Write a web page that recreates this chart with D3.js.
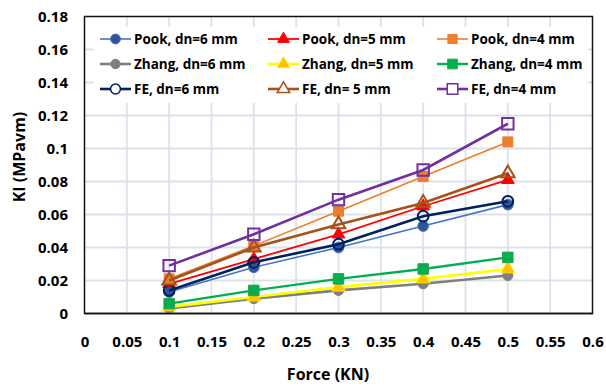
<!DOCTYPE html>
<html>
<head>
<meta charset="utf-8">
<script src="https://cdn.jsdelivr.net/npm/d3@7"></script>
<style>
  html, body { margin: 0; padding: 0; background: #fff; }
  svg { display: block; }
  text { font-family: "Open Sans", Lato, sans-serif; font-weight: bold; fill: #000; }
</style>
</head>
<body>
<svg id="chart" width="606" height="390"></svg>
<script>
// Applied force (KN)
const forces = [0.1, 0.2, 0.3, 0.4, 0.5];

// Stress intensity factor KI (MPa√m) per method and notch depth
const pook6  = [0.013, 0.028, 0.040, 0.053, 0.066];
const pook5  = [0.018, 0.033, 0.048, 0.065, 0.081];
const pook4  = [0.021, 0.041, 0.062, 0.083, 0.104];
const zhang6 = [0.003, 0.009, 0.014, 0.018, 0.023];
const zhang5 = [0.004, 0.010, 0.016, 0.021, 0.027];
const zhang4 = [0.006, 0.014, 0.021, 0.027, 0.034];
const fe6    = [0.014, 0.031, 0.042, 0.059, 0.068];
const fe5    = [0.020, 0.040, 0.054, 0.067, 0.085];
const fe4    = [0.029, 0.048, 0.069, 0.087, 0.115];

const seriesNames = [
  "Pook, dn=6 mm", "Pook, dn=5 mm", "Pook, dn=4 mm",
  "Zhang, dn=6 mm", "Zhang, dn=5 mm", "Zhang, dn=4 mm",
  "FE, dn=6 mm", "FE, dn= 5 mm", "FE, dn=4 mm"
];
const seriesValues = [pook6, pook5, pook4, zhang6, zhang5, zhang4, fe6, fe5, fe4];

const xTicks = [0, 0.05, 0.1, 0.15, 0.2, 0.25, 0.3, 0.35, 0.4, 0.45, 0.5, 0.55, 0.6];
const yTicks = [0, 0.02, 0.04, 0.06, 0.08, 0.1, 0.12, 0.14, 0.16, 0.18];

// Line and marker styling for each series
const styles = [
  { line: "#4472C4", lw: 1.6, shape: d3.symbolCircle,   size: 90,  fill: "#2F5597", stroke: "#4472C4" },
  { line: "#FF0000", lw: 1.8, shape: d3.symbolTriangle, size: 70,  fill: "#FF0000", stroke: "#FF0000" },
  { line: "#ED7D31", lw: 1.6, shape: d3.symbolSquare,   size: 100, fill: "#ED7D31", stroke: "#ED7D31" },
  { line: "#7F7F7F", lw: 2.6, shape: d3.symbolCircle,   size: 80,  fill: "#7F7F7F", stroke: "#7F7F7F" },
  { line: "#FFFF00", lw: 2.6, shape: d3.symbolTriangle, size: 80,  fill: "#FFC000", stroke: "#FFE600" },
  { line: "#00B050", lw: 2.4, shape: d3.symbolSquare,   size: 110, fill: "#00B050", stroke: "#2E9E4A" },
  { line: "#002060", lw: 2.6, shape: d3.symbolCircle,   size: 90,  fill: "none",    stroke: "#002060" },
  { line: "#A5521B", lw: 2.6, shape: d3.symbolTriangle, size: 80,  fill: "none",    stroke: "#A5521B" },
  { line: "#7030A0", lw: 2.6, shape: d3.symbolSquare,   size: 130, fill: "none",    stroke: "#7030A0" }
];

const svg = d3.select("#chart");
const plot = { left: 84.5, right: 592.5, top: 16.5, bottom: 313.5 };

const x = d3.scaleLinear().domain([0, 0.6]).range([plot.left, plot.right]);
const y = d3.scaleLinear().domain([0, 0.18]).range([plot.bottom, plot.top]);

// Gridlines
const grid = svg.append("g");
grid.selectAll("line.v").data(xTicks.slice(1, -1)).join("line")
  .attr("x1", d => x(d)).attr("x2", d => x(d))
  .attr("y1", plot.top).attr("y2", plot.bottom)
  .attr("stroke", "#DCE2EA").attr("stroke-width", 1.8);
grid.selectAll("line.h").data(yTicks.slice(1, -1)).join("line")
  .attr("x1", plot.left).attr("x2", plot.right)
  .attr("y1", d => y(d)).attr("y2", d => y(d))
  .attr("stroke", "#DCE2EA").attr("stroke-width", 1.8);

// Axes (tick labels only)
const xAxis = svg.append("g")
  .attr("transform", `translate(0,${plot.bottom})`)
  .call(d3.axisBottom(x).tickValues(xTicks).tickSize(0).tickPadding(23).tickFormat(d3.format("~g")));
xAxis.select(".domain").remove();
xAxis.selectAll("text").style("font-size", "15px");

const yAxis = svg.append("g")
  .attr("transform", `translate(${plot.left},0)`)
  .call(d3.axisLeft(y).tickValues(yTicks).tickSize(0).tickPadding(16.5).tickFormat(d3.format("~g")));
yAxis.select(".domain").remove();
yAxis.selectAll("text").style("font-size", "15px");

// Legend background box
const legendBox = { x: 94, y: 27, w: 494, h: 76 };
svg.append("rect")
  .attr("x", legendBox.x).attr("y", legendBox.y)
  .attr("width", legendBox.w).attr("height", legendBox.h)
  .attr("fill", "#fff");

// Series lines and markers
const lineGen = d3.line().x(d => x(d[0])).y(d => y(d[1]));
seriesValues.forEach((vals, i) => {
  const st = styles[i];
  const pts = forces.map((f, j) => [f, vals[j]]);
  const g = svg.append("g");
  g.append("path").datum(pts)
    .attr("d", lineGen).attr("fill", "none")
    .attr("stroke", st.line).attr("stroke-width", st.lw);
  g.selectAll("path.m").data(pts).join("path")
    .attr("class", "m")
    .attr("transform", d => `translate(${x(d[0])},${y(d[1])})`)
    .attr("d", d3.symbol().type(st.shape).size(st.size))
    .attr("fill", st.fill)
    .attr("stroke", st.stroke).attr("stroke-width", st.fill === "none" ? 2 : 1);
});

// Plot frame
svg.append("line")
  .attr("x1", plot.left).attr("x2", plot.right)
  .attr("y1", plot.bottom).attr("y2", plot.bottom)
  .attr("stroke", "#7F7F7F").attr("stroke-width", 2);
svg.append("rect")
  .attr("x", plot.left).attr("y", plot.top)
  .attr("width", plot.right - plot.left).attr("height", plot.bottom - plot.top)
  .attr("fill", "none").attr("stroke", "#111").attr("stroke-width", 1.5);

// Legend entries
const colX = [100, 268, 437];
const rowY = [39, 64, 89];
seriesNames.forEach((name, i) => {
  const st = styles[i];
  const cx = colX[i % 3], cy = rowY[Math.floor(i / 3)];
  const g = svg.append("g").attr("transform", `translate(${cx},${cy})`);
  g.append("line").attr("x1", 0).attr("x2", 31).attr("y1", 0).attr("y2", 0)
    .attr("stroke", st.line).attr("stroke-width", st.lw);
  g.append("path").attr("transform", "translate(15.5,0)")
    .attr("d", d3.symbol().type(st.shape).size(st.size * 0.85))
    .attr("fill", st.fill === "none" ? "#fff" : st.fill)
    .attr("stroke", st.stroke).attr("stroke-width", st.fill === "none" ? 1.5 : 1);
  g.append("text").attr("x", 34).attr("y", 0).attr("dy", "0.36em")
    .style("font-size", "13.5px").text(name);
});

// Axis titles
svg.append("text")
  .attr("x", 328).attr("y", 380)
  .attr("text-anchor", "middle").style("font-size", "16px")
  .text("Force (KN)");
svg.append("text")
  .attr("transform", "translate(19,157) rotate(-90)")
  .attr("text-anchor", "middle").attr("dy", "0.36em").style("font-size", "16px")
  .text("KI (MPavm)");
</script>
</body>
</html>
